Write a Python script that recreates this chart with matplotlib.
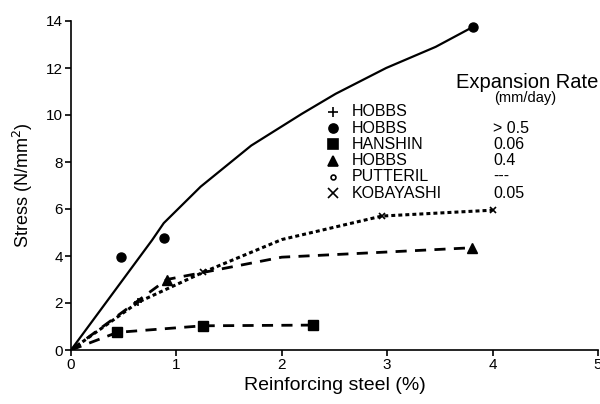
import matplotlib
matplotlib.use("Agg")
import matplotlib.pyplot as plt

plt.rcParams['font.family'] = ['Liberation Sans', 'DejaVu Sans']

# solid curve, HOBBS (filled circles)
solid_x = [0, 0.77, 0.88, 1.23, 1.71, 2.19, 2.51, 2.99, 3.46, 3.81]
solid_y = [0, 4.68, 5.4, 6.95, 8.7, 10.05, 10.9, 12.0, 12.9, 13.74]
circle_x = [0.47, 0.88, 3.81]
circle_y = [3.96, 4.77, 13.74]

# dotted curve, HOBBS (+) and KOBAYASHI (x)
dotted_x = [0, 0.64, 1.25, 2.0, 2.95, 4.0]
dotted_y = [0, 2.04, 3.3, 4.7, 5.7, 5.95]
plus_x = [0.64]
plus_y = [2.04]
cross_x = [1.25, 2.95, 4.0]
cross_y = [3.3, 5.7, 5.95]

# dashed curve, HOBBS (triangles)
tri_line_x = [0, 0.91, 2.0, 3.0, 3.8]
tri_line_y = [0, 3.0, 3.95, 4.17, 4.35]
tri_x = [0.91, 3.8]
tri_y = [3.0, 4.35]

# dashed curve, HANSHIN (squares)
sq_line_x = [0, 0.44, 1.25, 2.3]
sq_line_y = [0, 0.75, 1.03, 1.06]
sq_x = [0.44, 1.25, 2.3]
sq_y = [0.75, 1.03, 1.06]

# legend
leg_names = ['HOBBS', 'HOBBS', 'HANSHIN', 'HOBBS', 'PUTTERIL', 'KOBAYASHI']
leg_rates = ['', '> 0.5', '0.06', '0.4', '---', '0.05']
leg_markers = ['+', 'o', 's', '^', 'o', 'x']
leg_filled = [True, True, True, True, False, True]

fig = plt.figure(figsize=(6, 4.04), dpi=100)
ax = fig.add_axes([71 / 600, 1 - 350 / 404, 527 / 600, 329 / 404])

ax.plot(solid_x, solid_y, color='k', lw=1.6)
ax.plot(circle_x, circle_y, 'o', color='k', ms=6.5)

ax.plot(dotted_x, dotted_y, color='k', lw=2.2, linestyle=(0, (1.3, 1.0)))
ax.plot(plus_x, plus_y, '+', color='k', ms=6, mew=1.2)
ax.plot(cross_x, cross_y, 'x', color='k', ms=5, mew=1.2)

ax.plot(tri_line_x, tri_line_y, color='k', lw=2, linestyle=(0, (4, 3)))
ax.plot(tri_x, tri_y, '^', color='k', ms=7.5)

ax.plot(sq_line_x, sq_line_y, color='k', lw=2, linestyle=(0, (4, 3)))
ax.plot(sq_x, sq_y, 's', color='k', ms=6.5)

ax.set_xlim(0, 5)
ax.set_ylim(0, 14)
ax.set_xticks([0, 1, 2, 3, 4, 5])
ax.set_yticks([0, 2, 4, 6, 8, 10, 12, 14])
ax.spines['top'].set_visible(False)
ax.spines['right'].set_visible(False)
ax.spines['left'].set_linewidth(1.2)
ax.spines['bottom'].set_linewidth(1.2)
ax.tick_params(direction='out', length=4, width=1.2, labelsize=11, pad=2)
ax.set_xlabel('Reinforcing steel (%)', fontsize=14, labelpad=3)
ax.set_ylabel('Stress (N/mm$^2$)', fontsize=13, labelpad=8)

# legend block, placed in figure pixels
fig.text(527 / 600, 1 - 82 / 404, 'Expansion Rate', fontsize=14.5, ha='center', va='center')
fig.text(525 / 600, 1 - 98 / 404, '(mm/day)', fontsize=10.5, ha='center', va='center')
for i in range(len(leg_names)):
    yy = 1 - (112 + 16.2 * i) / 404
    fc = 'k' if leg_filled[i] else 'none'
    ms = 3.5 if leg_markers[i] == 'o' and not leg_filled[i] else 6.5
    ax.plot([333 / 600], [yy], leg_markers[i], color='k', mfc=fc, ms=ms, mew=1.2,
            transform=fig.transFigure, clip_on=False)
    fig.text(352 / 600, yy, leg_names[i], fontsize=11.5, va='center')
    fig.text(493 / 600, yy, leg_rates[i], fontsize=11.5, va='center')

fig.savefig('out.png', dpi=100)
